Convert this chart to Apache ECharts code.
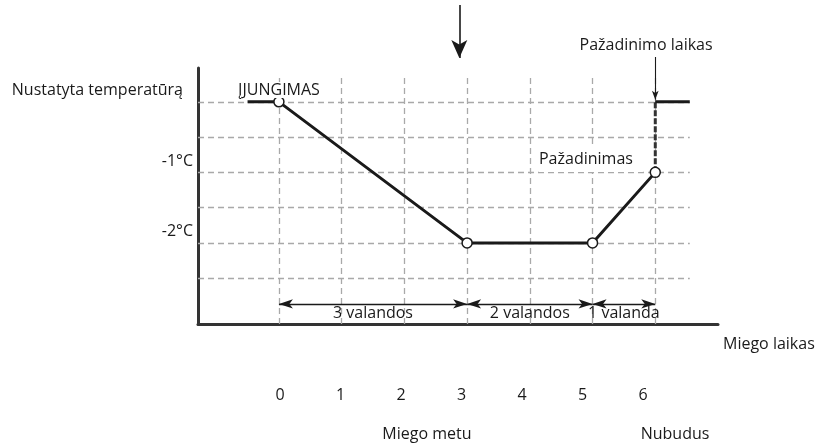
<!DOCTYPE html>
<html>
<head>
<meta charset="utf-8">
<script src="https://cdn.jsdelivr.net/npm/echarts@6/dist/echarts.min.js"></script>
<style>
  html, body { margin: 0; padding: 0; background: #fff; }
  #chart { width: 819px; height: 445px; }
</style>
</head>
<body>
<div id="chart"></div>
<script>
// Sleep mode: offset of the set temperature (°C) against hours since switching on
const hours = [-0.5, 0, 3, 5, 6];
const tempOffset = [0, 0, -2, -2, -1];
const hollowPoints = [false, true, true, true, true];
const wakeHours = [6, 6];
const wakeOffset = [-1, 0];
const afterWakeHours = [6, 6.55];
const afterWakeOffset = [0, 0];

// dashed reference grid
const gridTemps = [0, -0.5, -1, -1.5, -2, -2.5];
const gridHours = [0, 1, 2, 3, 4, 5, 6];

// axis ticks
const hourTicks = [0, 1, 2, 3, 4, 5, 6];
const tempTickValues = [0, -1, -2];
const tempTickLabels = ['Nustatyta temperatūrą', '-1°C', '-2°C'];

// duration brackets under the curve
const spanFrom = [0, 3, 5];
const spanTo = [3, 5, 6];
const spanLabels = ['3 valandos', '2 valandos', '1 valanda'];
const spanLevel = -2.866;

// free text notes [hour, offset]
const noteTexts = ['ĮJUNGIMAS', 'Pažadinimas', 'Pažadinimo laikas', 'Miego metu', 'Nubudus'];
const noteHours = [-0.652, 4.146, 5.853, 2.36, 6.315];
const noteOffsets = [0.168, -0.81, 0.806, -4.71, -4.71];

// pointer arrows [hour, fromOffset, toOffset]
const sleepArrow = [2.876, 1.373, 0.622];
const wakeArrow = [6, 0.636, 0.03];

const X_MIN = -1.29, X_MAX = 7;
const Y_MIN = -3.15, Y_MAX = 0.48;
const FULL_Y_MIN = -4.866, FULL_Y_MAX = 1.444;
const GRID_X_END = 6.55, GRID_Y_TOP = 0.38;

const FONT = 'Open Sans';
const INK = '#1a1a1a';

const gridSegments = [];
gridTemps.forEach(t => gridSegments.push({ coords: [[X_MIN, t], [GRID_X_END, t]] }));
gridHours.forEach(h => gridSegments.push({ coords: [[h, Y_MIN], [h, GRID_Y_TOP]] }));

const curveData = hours.map((h, i) => ({
  value: [h, tempOffset[i]],
  symbol: hollowPoints[i] ? 'circle' : 'none'
}));

const markLines = [];
spanFrom.forEach((f, i) => {
  markLines.push([
    { name: spanLabels[i], coord: [f, spanLevel], symbol: 'arrow', symbolSize: [7, 14] },
    { coord: [spanTo[i], spanLevel], symbol: 'arrow', symbolSize: [7, 14] }
  ]);
});
markLines.push([
  { coord: [sleepArrow[0], sleepArrow[1]], symbol: 'none', lineStyle: { width: 1.6 } },
  { coord: [sleepArrow[0], sleepArrow[2]], symbol: 'arrow', symbolSize: [12, 18] }
]);
markLines.push([
  { coord: [wakeArrow[0], wakeArrow[1]], symbol: 'none', lineStyle: { width: 1.1 } },
  { coord: [wakeArrow[0], wakeArrow[2]], symbol: 'arrow', symbolSize: [5, 9] }
]);

const noteData = noteTexts.map((t, i) => {
  const centered = i >= 2;
  const boxed = i <= 1;
  return {
    value: [noteHours[i], noteOffsets[i]],
    label: {
      formatter: t,
      align: centered ? 'center' : 'left',
      backgroundColor: boxed ? '#fff' : 'transparent',
      padding: i === 1 ? [0, 10, 10, 0] : 0
    }
  };
});

const chart = echarts.init(document.getElementById('chart'), null, { renderer: 'canvas' });
chart.setOption({
  animation: false,
  backgroundColor: '#fff',
  textStyle: { fontFamily: FONT, color: INK },
  grid: [
    { left: 198, right: 101, top: 68, bottom: 121 },
    { left: 198, right: 101, top: 0, bottom: 0 },
    { left: 280, right: 176, top: 68, bottom: 121 }
  ],
  xAxis: [
    {
      type: 'value', gridIndex: 0, min: X_MIN, max: X_MAX,
      axisLine: { show: true, onZero: false, lineStyle: { color: '#333', width: 3 } },
      axisTick: { show: false }, axisLabel: { show: false }, splitLine: { show: false },
      name: 'Miego laikas', nameLocation: 'end', nameGap: 5,
      nameTextStyle: { fontFamily: FONT, fontSize: 16, color: INK, align: 'left', verticalAlign: 'top', padding: [12, 0, 0, 0] }
    },
    {
      type: 'value', gridIndex: 1, min: X_MIN, max: X_MAX, show: false
    },
    {
      type: 'value', gridIndex: 2, min: hourTicks[0], max: hourTicks[hourTicks.length - 1], interval: 1,
      axisLine: { show: false }, axisTick: { show: false }, splitLine: { show: false },
      axisLabel: { show: true, margin: 63, fontFamily: FONT, fontSize: 16, color: INK }
    }
  ],
  yAxis: [
    {
      type: 'value', gridIndex: 0, min: Y_MIN, max: Y_MAX,
      axisLine: { show: true, onZero: false, lineStyle: { color: '#333', width: 3 } },
      axisTick: { show: false }, splitLine: { show: false },
      axisLabel: {
        show: true, customValues: tempTickValues, margin: 5,
        fontFamily: FONT, fontSize: 16, color: INK,
        verticalAlign: 'bottom', lineHeight: 16, padding: [0, 0, 3, 0],
        formatter: v => {
          const i = tempTickValues.indexOf(v);
          if (i < 0) return '';
          return i === 0 ? '{wide|' + tempTickLabels[i] + '}' : tempTickLabels[i];
        },
        rich: { wide: { fontFamily: FONT, fontSize: 16, color: INK, padding: [0, 10, 0, 0], lineHeight: 16 } }
      }
    },
    { type: 'value', gridIndex: 1, min: FULL_Y_MIN, max: FULL_Y_MAX, show: false },
    { type: 'value', gridIndex: 2, min: Y_MIN, max: Y_MAX, show: false }
  ],
  series: [
    {
      type: 'lines', coordinateSystem: 'cartesian2d', xAxisIndex: 0, yAxisIndex: 0,
      silent: true, z: 1, symbol: 'none',
      lineStyle: { color: '#a9a9a9', width: 1.3, type: [6, 4], opacity: 1 },
      data: gridSegments
    },
    {
      type: 'line', xAxisIndex: 0, yAxisIndex: 0, z: 4, silent: true,
      showSymbol: true, symbolSize: 10,
      lineStyle: { color: INK, width: 3 },
      itemStyle: { color: '#fff', borderColor: INK, borderWidth: 1.5 },
      data: curveData
    },
    {
      type: 'line', xAxisIndex: 0, yAxisIndex: 0, z: 3, silent: true, symbol: 'none',
      lineStyle: { color: '#333', width: 3, type: [6, 2] },
      data: wakeHours.map((h, i) => [h, wakeOffset[i]])
    },
    {
      type: 'line', xAxisIndex: 0, yAxisIndex: 0, z: 3, silent: true, symbol: 'none',
      lineStyle: { color: INK, width: 3 },
      data: afterWakeHours.map((h, i) => [h, afterWakeOffset[i]])
    },
    {
      type: 'line', xAxisIndex: 1, yAxisIndex: 1, z: 5, silent: true, symbol: 'none',
      data: [],
      markLine: {
        silent: true, animation: false,
        lineStyle: { color: INK, width: 1.4, type: 'solid' },
        itemStyle: { color: INK },
        label: {
          show: true, position: 'insideMiddleBottom', distance: 1,
          formatter: p => p.name || '',
          fontFamily: FONT, fontSize: 16, color: INK
        },
        emphasis: { disabled: true },
        data: markLines
      }
    },
    {
      type: 'scatter', xAxisIndex: 1, yAxisIndex: 1, z: 6, silent: true,
      symbol: 'circle', symbolSize: 1, itemStyle: { color: 'rgba(0,0,0,0)', opacity: 1 },
      label: {
        show: true, position: 'inside', verticalAlign: 'middle',
        fontFamily: FONT, fontSize: 16, color: INK
      },
      data: noteData
    }
  ]
});
</script>
</body>
</html>
